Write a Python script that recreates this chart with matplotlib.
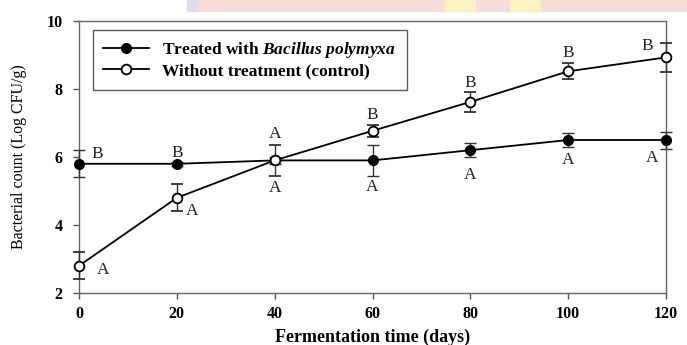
import matplotlib
matplotlib.use("Agg")
import matplotlib.pyplot as plt
from matplotlib.patches import Rectangle

# ---- data ----
days = [0, 20, 40, 60, 80, 100, 120]
treated = [5.8, 5.8, 5.9, 5.9, 6.2, 6.5, 6.5]
treated_err = [0.4, 0.05, 0.1, 0.45, 0.2, 0.2, 0.25]
control = [2.8, 4.8, 5.9, 6.77, 7.62, 8.52, 8.93]
control_err = [0.4, 0.4, 0.45, 0.17, 0.3, 0.24, 0.43]
treated_letters = ["B", "B", "A", "A", "A", "A", "A"]
control_letters = ["A", "A", "A", "B", "B", "B", "B"]
xticks = [0, 20, 40, 60, 80, 100, 120]
yticks = [2, 4, 6, 8, 10]

# label offsets in pixels (layout)
treated_offsets = [(18, 10), (0, 11), (0, -28), (0, -27), (0, -25), (0, -20), (-14, -18)]
control_offsets = [(24, -4), (15, -13), (0, 26), (0, 16), (0, 19), (0, 18), (-19, 11)]

serif = ["Liberation Serif", "DejaVu Serif"]
plt.rcParams["font.family"] = serif
plt.rcParams["mathtext.fontset"] = "custom"
plt.rcParams["mathtext.rm"] = "Liberation Serif:bold"
plt.rcParams["mathtext.bf"] = "Liberation Serif:bold"
plt.rcParams["mathtext.it"] = "Liberation Serif:italic:bold"
plt.rcParams["mathtext.bfit"] = "Liberation Serif:italic:bold"

fig = plt.figure(figsize=(6.87, 3.45), dpi=100)
# decorative watermark band at top
fig.patches.append(Rectangle((197/687, 1-11/345), 1-197/687, 11/345, transform=fig.transFigure,
                             color="#f8dcdc", zorder=0))
fig.patches.append(Rectangle((187/687, 1-11/345), 10/687, 11/345, transform=fig.transFigure,
                             color="#dcdcec", zorder=0))
for xs in (445, 510):
    fig.patches.append(Rectangle((xs/687, 1-11/345), 30/687, 11/345, transform=fig.transFigure,
                                 color="#fcf3c4", zorder=0))

ax = fig.add_axes([79/687, 1-293/345, (666-79)/687, (293-21)/345])

ecol = "#333333"
c1 = ax.errorbar(days, treated, yerr=treated_err, fmt="-o", color="black", lw=1.3,
                 ms=7, mfc="black", mec="black", ecolor=ecol, elinewidth=1.0, capsize=4,
                 capthick=1.0, zorder=3, clip_on=False)
c2 = ax.errorbar(days, control, yerr=control_err, fmt="-o", color="black", lw=1.3,
                 ms=7, mfc="white", mec="black", mew=1.3, ecolor=ecol, elinewidth=1.0, capsize=4,
                 capthick=1.0, zorder=4, clip_on=False)

for x, y, t, (dx, dy) in zip(days, treated, treated_letters, treated_offsets):
    ax.annotate(t, (x, y), xytext=(dx, dy), textcoords="offset pixels",
                ha="center", va="center", fontsize=12.5, color="#222222")
for x, y, t, (dx, dy) in zip(days, control, control_letters, control_offsets):
    ax.annotate(t, (x, y), xytext=(dx, dy), textcoords="offset pixels",
                ha="center", va="center", fontsize=12.5, color="#222222")

ax.set_xlim(0, 120)
ax.set_ylim(2, 10)
ax.set_xticks(xticks)
ax.set_yticks(yticks)
ax.set_xticklabels([str(v) for v in xticks], fontweight="bold", fontsize=11.5)
ax.set_yticklabels([str(v) for v in yticks], fontweight="bold", fontsize=11.5)
ax.tick_params(direction="out", length=4, width=1, color="#555555")
ax.tick_params(axis="x", pad=5)
ax.tick_params(axis="y", pad=8)
for s in ax.spines.values():
    s.set_color("#666666")
    s.set_linewidth(1.0)

ax.set_xlabel("Fermentation time (days)", fontweight="bold", fontsize=13, labelpad=5)
ax.set_ylabel("Bacterial count (Log CFU/g)", fontsize=11.5, labelpad=14)

leg = ax.legend([c1[0], c2[0]],
                ["Treated with $\\mathbfit{Bacillus\\ polymyxa}$", "Without treatment (control)"],
                loc="upper left", bbox_to_anchor=(14/587, 1-9/272), frameon=True, fancybox=False,
                edgecolor="#333333", handlelength=2.6, borderpad=0.6, labelspacing=0.15,
                borderaxespad=0, handletextpad=0.8,
                prop={"family": serif, "weight": "bold", "size": 12.5})
leg.get_frame().set_linewidth(1.0)

fig.savefig("out.png", dpi=100)
